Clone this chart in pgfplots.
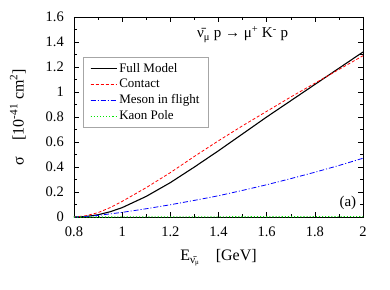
\documentclass[border=0pt]{standalone}
\usepackage{fontspec}
\setmainfont{Liberation Serif}
\usepackage{pgfplots}
\pgfplotsset{compat=1.18}
\usetikzlibrary{calc}
\definecolor{kgreen}{RGB}{0,230,0}
\begin{document}
\begin{tikzpicture}
\begin{axis}[
  scale only axis, width=289pt, height=200pt,
  xmin=0.8, xmax=2, ymin=0, ymax=1.6,
  xtick={0.8,1,1.2,1.4,1.6,1.8,2}, ytick={0,0.2,...,1.6},
  xticklabels={0.8,1,1.2,1.4,1.6,1.8,2},
  yticklabels={0,0.2,0.4,0.6,0.8,1,1.2,1.4,1.6},
  minor x tick num=1, minor y tick num=1,
  tick align=inside, major tick length=5pt, minor tick length=3pt,
  tick style={black, line width=0.5pt},
  axis line style={line width=0.8pt},
  /pgf/number format/assume math mode=true,
  ticklabel style={font=\fontsize{14.5}{16}\selectfont, inner sep=1pt},
  xticklabel style={yshift=-9pt},
  yticklabel style={xshift=-9pt},
  xlabel={E\textsubscript{ν̄\textsubscript{\scriptsize μ}}\quad[GeV]},
  ylabel={σ\quad[10\textsuperscript{-41} cm\textsuperscript{2}]},
  label style={font=\fontsize{16}{18}\selectfont},
  xlabel style={at={(axis description cs:0.5,-0.205)}, anchor=center},
  ylabel style={at={(axis description cs:-0.194,0.5)}, anchor=center, rotate=0},
  legend style={at={(axis description cs:0.031,0.8)}, anchor=north west,
    font=\fontsize{13}{15}\selectfont, draw=black!35,
    row sep=1.5pt, inner xsep=7pt, inner ysep=4pt},
  legend cell align=left,
  legend image code/.code={\path (0pt,0pt) -- (26pt,0pt); \draw[#1] (0pt,0pt) -- (20pt,0pt);},
]
\addplot[black, line width=1.1pt] coordinates {
 (0.8,0) (0.85,0.004) (0.9,0.018) (0.95,0.042) (1.0,0.075) (1.1,0.165) (1.2,0.275)
 (1.3,0.40) (1.4,0.53) (1.5,0.665) (1.6,0.80) (1.7,0.93) (1.8,1.06) (1.9,1.19) (2.0,1.32)};
\addlegendentry{Full Model}
\addplot[red, densely dashed, line width=0.8pt] coordinates {
 (0.8,0) (0.85,0.01) (0.9,0.035) (0.95,0.075) (1.0,0.125) (1.1,0.235) (1.2,0.355)
 (1.3,0.485) (1.4,0.61) (1.5,0.73) (1.6,0.845) (1.7,0.96) (1.8,1.07) (1.9,1.18) (2.0,1.29)};
\addlegendentry{Contact}
\addplot[blue, dash pattern=on 5pt off 2pt on 1pt off 2pt, line width=0.8pt] coordinates {
 (0.8,0) (0.85,0.004) (0.9,0.013) (1.0,0.037) (1.1,0.066) (1.2,0.098) (1.3,0.133)
 (1.4,0.17) (1.5,0.213) (1.6,0.258) (1.7,0.307) (1.8,0.358) (1.9,0.412) (2.0,0.47)};
\addlegendentry{Meson in flight}
\addplot[kgreen, dotted, line width=1.1pt] coordinates {
 (0.8,0) (1.0,0.0005) (1.2,0.001) (1.4,0.0015) (1.6,0.002) (1.8,0.0025) (2.0,0.003)};
\addlegendentry{Kaon Pole}
\node[font=\fontsize{15}{18}\selectfont] at (axis cs:1.5,1.46)
  {ν̄\textsubscript{μ} p → μ\textsuperscript{+} K\textsuperscript{-} p};
\node[font=\fontsize{15}{17}\selectfont] at (axis cs:1.937,0.11) {(a)};
\end{axis}
\pgfresetboundingbox
\path[use as bounding box] ($(current axis.south west)+(-74pt,-72pt)$) rectangle ($(current axis.north east)+(27pt,17pt)$);
\end{tikzpicture}
\end{document}
